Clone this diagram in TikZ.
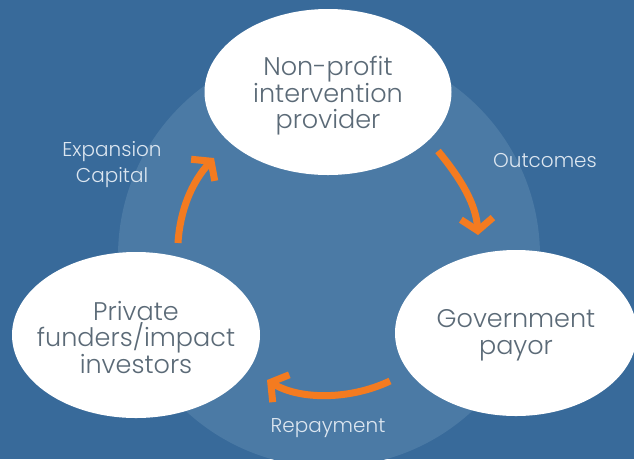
\documentclass[tikz,border=0pt]{standalone}
\usepackage{fontspec}
\setmainfont{Poppins Light}
\usetikzlibrary{shapes.geometric,arrows.meta}
\definecolor{bgblue}{HTML}{386A9A}
\definecolor{ringblue}{HTML}{4B7AA5}
\definecolor{arrorange}{HTML}{F47B20}
\definecolor{boxtext}{HTML}{5B6A77}
\definecolor{labeltext}{HTML}{DCE6F0}
\tikzset{
  bubble/.style={ellipse, fill=white, draw=none, inner sep=0pt},
  bubbletext/.style={text=boxtext, align=center, inner sep=0pt,
    font=\fontsize{25.5}{26.5}\selectfont},
  flowlabel/.style={text=labeltext, align=center, font=\fontsize{20}{26}\selectfont, inner sep=0pt},
  flow/.style={draw=arrorange, line width=7pt,
    -{Straight Barb[length=12pt, width=32pt, line width=7pt]}},
}
\begin{document}
\begin{tikzpicture}[x=1pt,y=-1pt]
  \useasboundingbox (0,0) rectangle (634,459);
  \fill[bgblue] (0,0) rectangle (634,459);
  \fill[ringblue] (329,256) circle[radius=211];

  \node[bubble, minimum width=247pt, minimum height=166pt] (np) at (328,92) {};
  \node[bubble, minimum width=248pt, minimum height=166pt] (pf) at (136,335) {};
  \node[bubble, minimum width=242pt, minimum height=166pt] (gp) at (516,333) {};

  \node[bubbletext] (npt) at ([yshift=-4pt]np.center) {Non-profit\\intervention\\provider};
  \node[bubbletext] (pft) at ([yshift=-2.5pt]pf.center) {Private\\funders/impact\\investors};
  \node[bubbletext] (gpt) at ([yshift=-2.5pt]gp.center) {Government\\payor};

  \coordinate (a1s) at (178,243);
  \coordinate (a1e) at (214,158);
  \coordinate (a2s) at (438,151);
  \coordinate (a2e) at (478,235);
  \coordinate (a3s) at (390,381);
  \coordinate (a3e) at (267,380);

  \draw[flow] (a1s) .. controls (180,210) and (192,182) .. (a1e);
  \draw[flow] (a2s) .. controls (462,180) and (476,205) .. (a2e);
  \draw[flow] (a3s) .. controls (350,400) and (300,400) .. (a3e);

  \node[flowlabel, anchor=base] (l1) at (112,182) {Expansion\\Capital};
  \node[flowlabel, anchor=base] (l2) at (545,167) {Outcomes};
  \node[flowlabel, anchor=base] (l3) at (328,432) {Repayment};
\end{tikzpicture}
\end{document}
